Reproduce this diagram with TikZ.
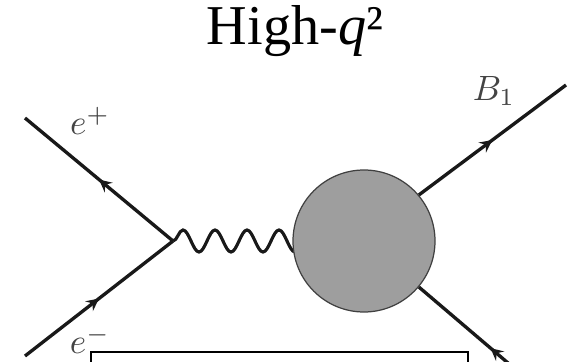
\documentclass[tikz,border=0pt]{standalone}
\usepackage{fontspec}
\setmainfont{Liberation Serif}
\usepackage{amsmath}
\usetikzlibrary{decorations.pathmorphing,decorations.markings}
\definecolor{blobgray}{HTML}{9E9E9E}
\definecolor{labelgray}{HTML}{444444}
\begin{document}
\begin{tikzpicture}
                \tikzset{every loop/.style={}}
                \tikzstyle{fermion}=[line width=0.95pt,draw=black!90,postaction={decorate},
                    decoration={markings,mark=at position 0.5 with {\arrow[scale=.8]{stealth}}}]
                \tikzstyle{photon}=[line width=0.9pt,draw=black!90,
                    decorate,decoration={snake,segment length=0.32cm,amplitude=0.11cm}]
                \tikzstyle{blob}=[circle,draw=black!75,fill=blobgray,line width=0.35pt,inner sep=0pt,minimum size=1.42cm]
                \tikzstyle{lbl}=[text=labelgray,inner sep=0pt]
                \useasboundingbox (0,0) rectangle (5.78,3.61);
                \node[inner sep=0pt] (title) at (2.95,3.3) {\fontsize{16}{18}\selectfont High-\textit{q}²};
                \coordinate (v) at (1.73,1.2);
                \coordinate (ep) at (.25,2.43);
                \coordinate (em) at (.25,.05);
                \coordinate (b1) at (5.66,2.76);
                \coordinate (b2) at (5.62,-.48);
                \coordinate (c) at (3.64,1.2);
                \draw[photon] (v) -- (c);
                \node[blob] (blob) at (c) {};
                \draw[fermion] (v) -- (ep);
                \draw[fermion] (em) -- (v);
                \draw[fermion] (blob.40) -- (b1);
                \draw[fermion] (b2) -- (blob.-40);
                \node[lbl] (eplus) at (.9,2.4) {$e^+$};
                \node[lbl] (eminus) at (.9,.21) {$e^-$};
                \node[lbl] (bone) at (4.94,2.7) {$B_1$};
                \draw[line width=0.55pt,fill=white] (.91,-.1) rectangle (4.68,.09);
            \end{tikzpicture}
\end{document}
